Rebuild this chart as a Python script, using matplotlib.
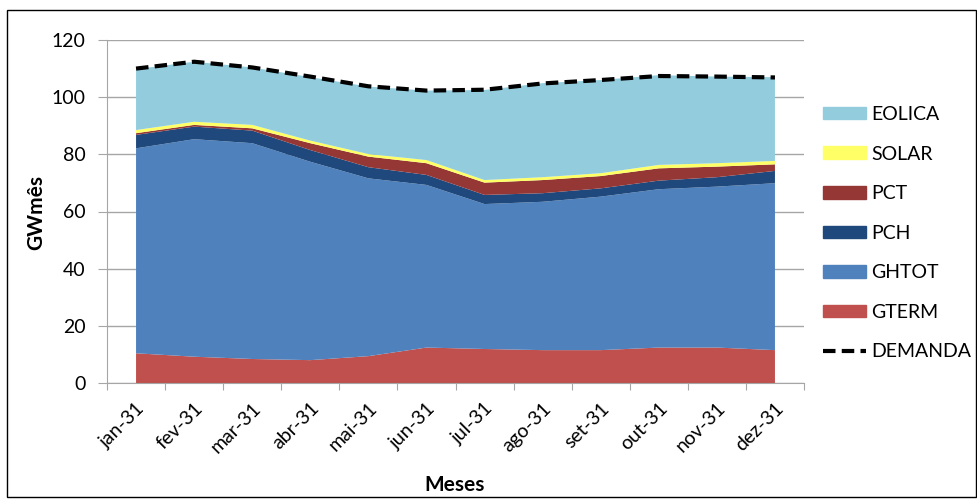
import matplotlib
matplotlib.use("Agg")
import matplotlib.pyplot as plt
from matplotlib.patches import Patch, Rectangle
from matplotlib.lines import Line2D
import numpy as np

plt.rcParams['font.family'] = ['Lato', 'DejaVu Sans']

meses = ["jan-31", "fev-31", "mar-31", "abr-31", "mai-31", "jun-31",
         "jul-31", "ago-31", "set-31", "out-31", "nov-31", "dez-31"]

gterm = [10.4, 9.2, 8.4, 8.0, 9.4, 12.4, 11.9, 11.5, 11.5, 12.4, 12.4, 11.5]
ghtot = [71.7, 76.1, 75.5, 69.4, 62.2, 56.9, 50.7, 51.9, 53.7, 55.4, 56.3, 58.4]
pch = [4.7, 4.4, 4.4, 4.1, 3.9, 3.5, 3.2, 3.0, 2.9, 3.0, 3.3, 4.3]
pct = [0.6, 0.6, 0.8, 2.4, 3.7, 4.1, 4.3, 4.6, 4.3, 4.3, 3.7, 2.3]
solar = [1.1, 1.1, 1.2, 0.9, 0.9, 1.1, 0.9, 1.0, 1.0, 1.2, 1.2, 1.2]
eolica = [21.3, 21.0, 20.1, 22.2, 23.6, 24.3, 31.5, 32.9, 32.6, 31.4, 30.3, 29.3]
demanda = [110.0, 112.4, 110.4, 107.2, 103.8, 102.3, 102.6, 104.8, 106.0, 107.4, 107.2, 106.9]

series = ["GTERM", "GHTOT", "PCH", "PCT", "SOLAR", "EOLICA"]
cores = ["#C0504D", "#4F81BD", "#1F497D", "#953735", "#FFFF66", "#93CDDD"]

fig = plt.figure(figsize=(9.77, 4.99), dpi=100)
ax = fig.add_axes([107 / 977, 1 - 383 / 499, (804 - 107) / 977, (383 - 40) / 499])

x = np.arange(len(meses))
ax.stackplot(x, gterm, ghtot, pch, pct, solar, eolica, colors=cores, linewidth=0)
ax.plot(x, demanda, color="black", linestyle=(0, (3, 1.5)), linewidth=3)

ax.set_xlim(-0.5, len(meses) - 0.5)
ax.set_ylim(0, 120)
ax.set_yticks(range(0, 121, 20))
ax.yaxis.grid(True, color="#A6A6A6", linewidth=1)
ax.set_axisbelow(True)

# ticks between categories, labels at category centres
ax.set_xticks(np.arange(-0.5, len(meses), 1.0))
ax.set_xticklabels([])
ax.set_xticks(x, minor=True)
ax.set_xticklabels(meses, minor=True, rotation=45, ha="right", rotation_mode="anchor", fontsize=14)
ax.tick_params(axis="x", which="minor", length=0, pad=12)
ax.tick_params(axis="x", which="major", length=5, color="#A6A6A6")
ax.tick_params(axis="y", length=6.5, color="#A6A6A6", labelsize=14, pad=9)

for s in ["top", "right"]:
    ax.spines[s].set_visible(False)
for s in ["left", "bottom"]:
    ax.spines[s].set_color("#A6A6A6")

fig.text(36 / 977, 1 - 212 / 499, "GWmês", rotation=90, ha="center", va="center",
         fontsize=15, fontweight="bold")
fig.text(455 / 977, 1 - 485 / 499, "Meses", ha="center", va="center",
         fontsize=15, fontweight="bold")

handles = [Patch(color=c, label=n) for c, n in zip(cores[::-1], series[::-1])]
handles.append(Line2D([0], [0], color="black", linestyle=(0, (3, 1.5)), linewidth=3, label="DEMANDA"))
fig.legend(handles=handles, loc="upper left", bbox_to_anchor=(823 / 977, 1 - 106 / 499),
           frameon=False, fontsize=14, labelspacing=1.16, handlelength=2.2,
           handleheight=0.62, handletextpad=0.3, borderpad=0, borderaxespad=0)

fig.patches.append(Rectangle((7 / 977, 2 / 499), 969 / 977, 487 / 499, transform=fig.transFigure,
                             fill=False, edgecolor="black", linewidth=1))

fig.savefig("out.png", dpi=100)
